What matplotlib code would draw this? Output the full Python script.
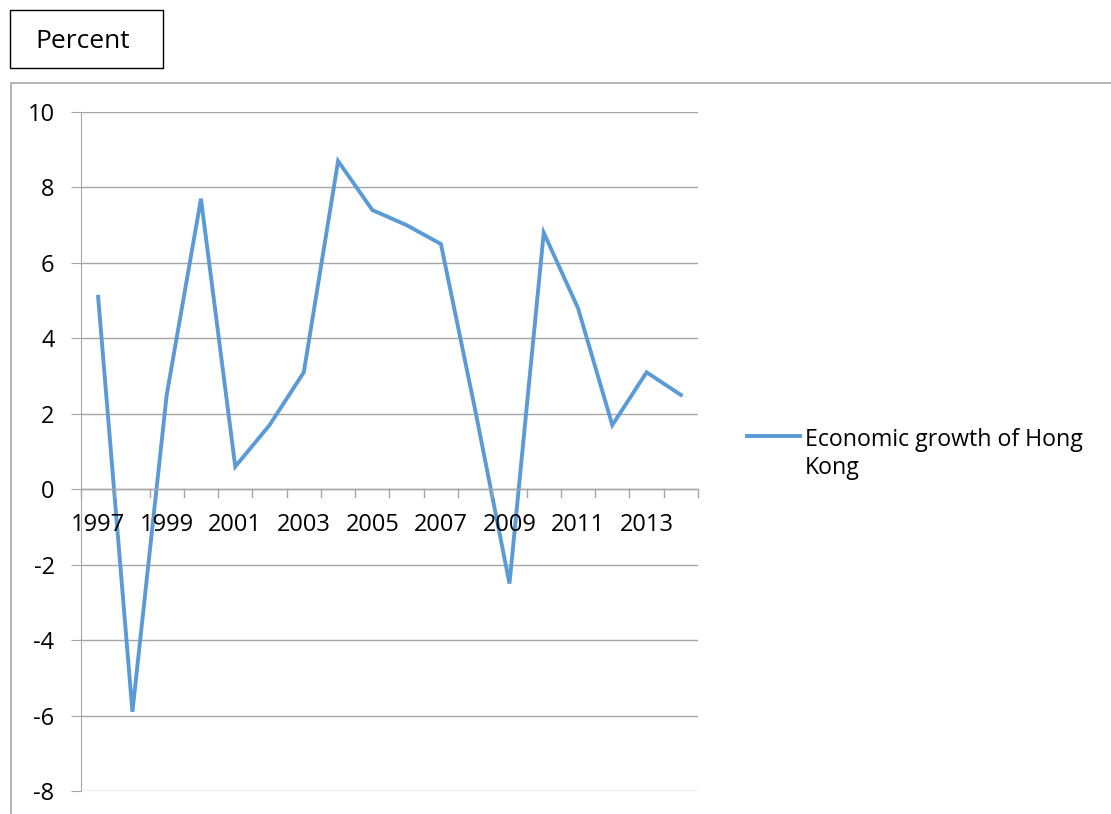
import matplotlib.pyplot as plt
from matplotlib.patches import Rectangle

plt.rcParams['font.family'] = ['Open Sans', 'DejaVu Sans']

# data
years = list(range(1997, 2015))
growth = [5.1, -5.9, 2.5, 7.7, 0.6, 1.7, 3.1, 8.7, 7.4, 7.0, 6.5, 2.1, -2.5, 6.8, 4.8, 1.7, 3.1, 2.5]
yticks = [-8, -6, -4, -2, 0, 2, 4, 6, 8, 10]
series_name = 'Economic growth of Hong\nKong'

W, H = 1111, 814
fig = plt.figure(figsize=(W / 100, H / 100), dpi=100)

# plot area in pixel coords -> figure fractions
left, right, top, bottom = 81, 698, 112, 791
ax = fig.add_axes([left / W, 1 - bottom / H, (right - left) / W, (bottom - top) / H])

grey = '#a6a6a6'
blue = '#5b9bd5'
n = len(years)
x = [i + 0.5 for i in range(n)]
ax.plot(x, growth, color=blue, lw=2.8, solid_joinstyle='miter')

ax.set_xlim(0, n)
ax.set_ylim(-8, 10)
ax.set_yticks(yticks)
ax.set_yticklabels([str(v) for v in yticks], fontsize=17)
ax.yaxis.grid(True, color=grey, lw=1)
ax.set_axisbelow(True)

for s in ['top', 'right', 'bottom']:
    ax.spines[s].set_visible(False)
ax.spines['left'].set_color(grey)
ax.tick_params(axis='y', length=7, color=grey, pad=12)

# category axis at y=0 with ticks between categories
ax.set_xticks([])
ax.axhline(0, color=grey, lw=1)
for i in range(n + 1):
    ax.plot([i, i], [0, -0.2], color=grey, lw=1, clip_on=False)
for i, yr in enumerate(years):
    if i % 2 == 0:
        ax.text(x[i], -0.95, str(yr), ha='center', va='center', fontsize=17)

# legend
fig.add_artist(plt.Line2D([747 / W, 800 / W], [1 - 436 / H, 1 - 436 / H], color=blue, lw=2.8))
fig.text(805 / W, 1 - 454 / H, series_name, ha='left', va='center', fontsize=16.7, linespacing=1.25)

# chart area border
fig.add_artist(Rectangle((11 / W, -0.1), 1.2, 1 - 83 / H + 0.1, transform=fig.transFigure,
                         fill=False, edgecolor=grey, lw=1.2))

# "Percent" box
fig.add_artist(Rectangle((10 / W, 1 - 68 / H), 153 / W, 58 / H, transform=fig.transFigure,
                         fill=False, edgecolor='black', lw=1))
fig.text(83 / W, 1 - 42 / H, 'Percent', ha='center', va='center', fontsize=19)

fig.savefig('out.png', dpi=100)
